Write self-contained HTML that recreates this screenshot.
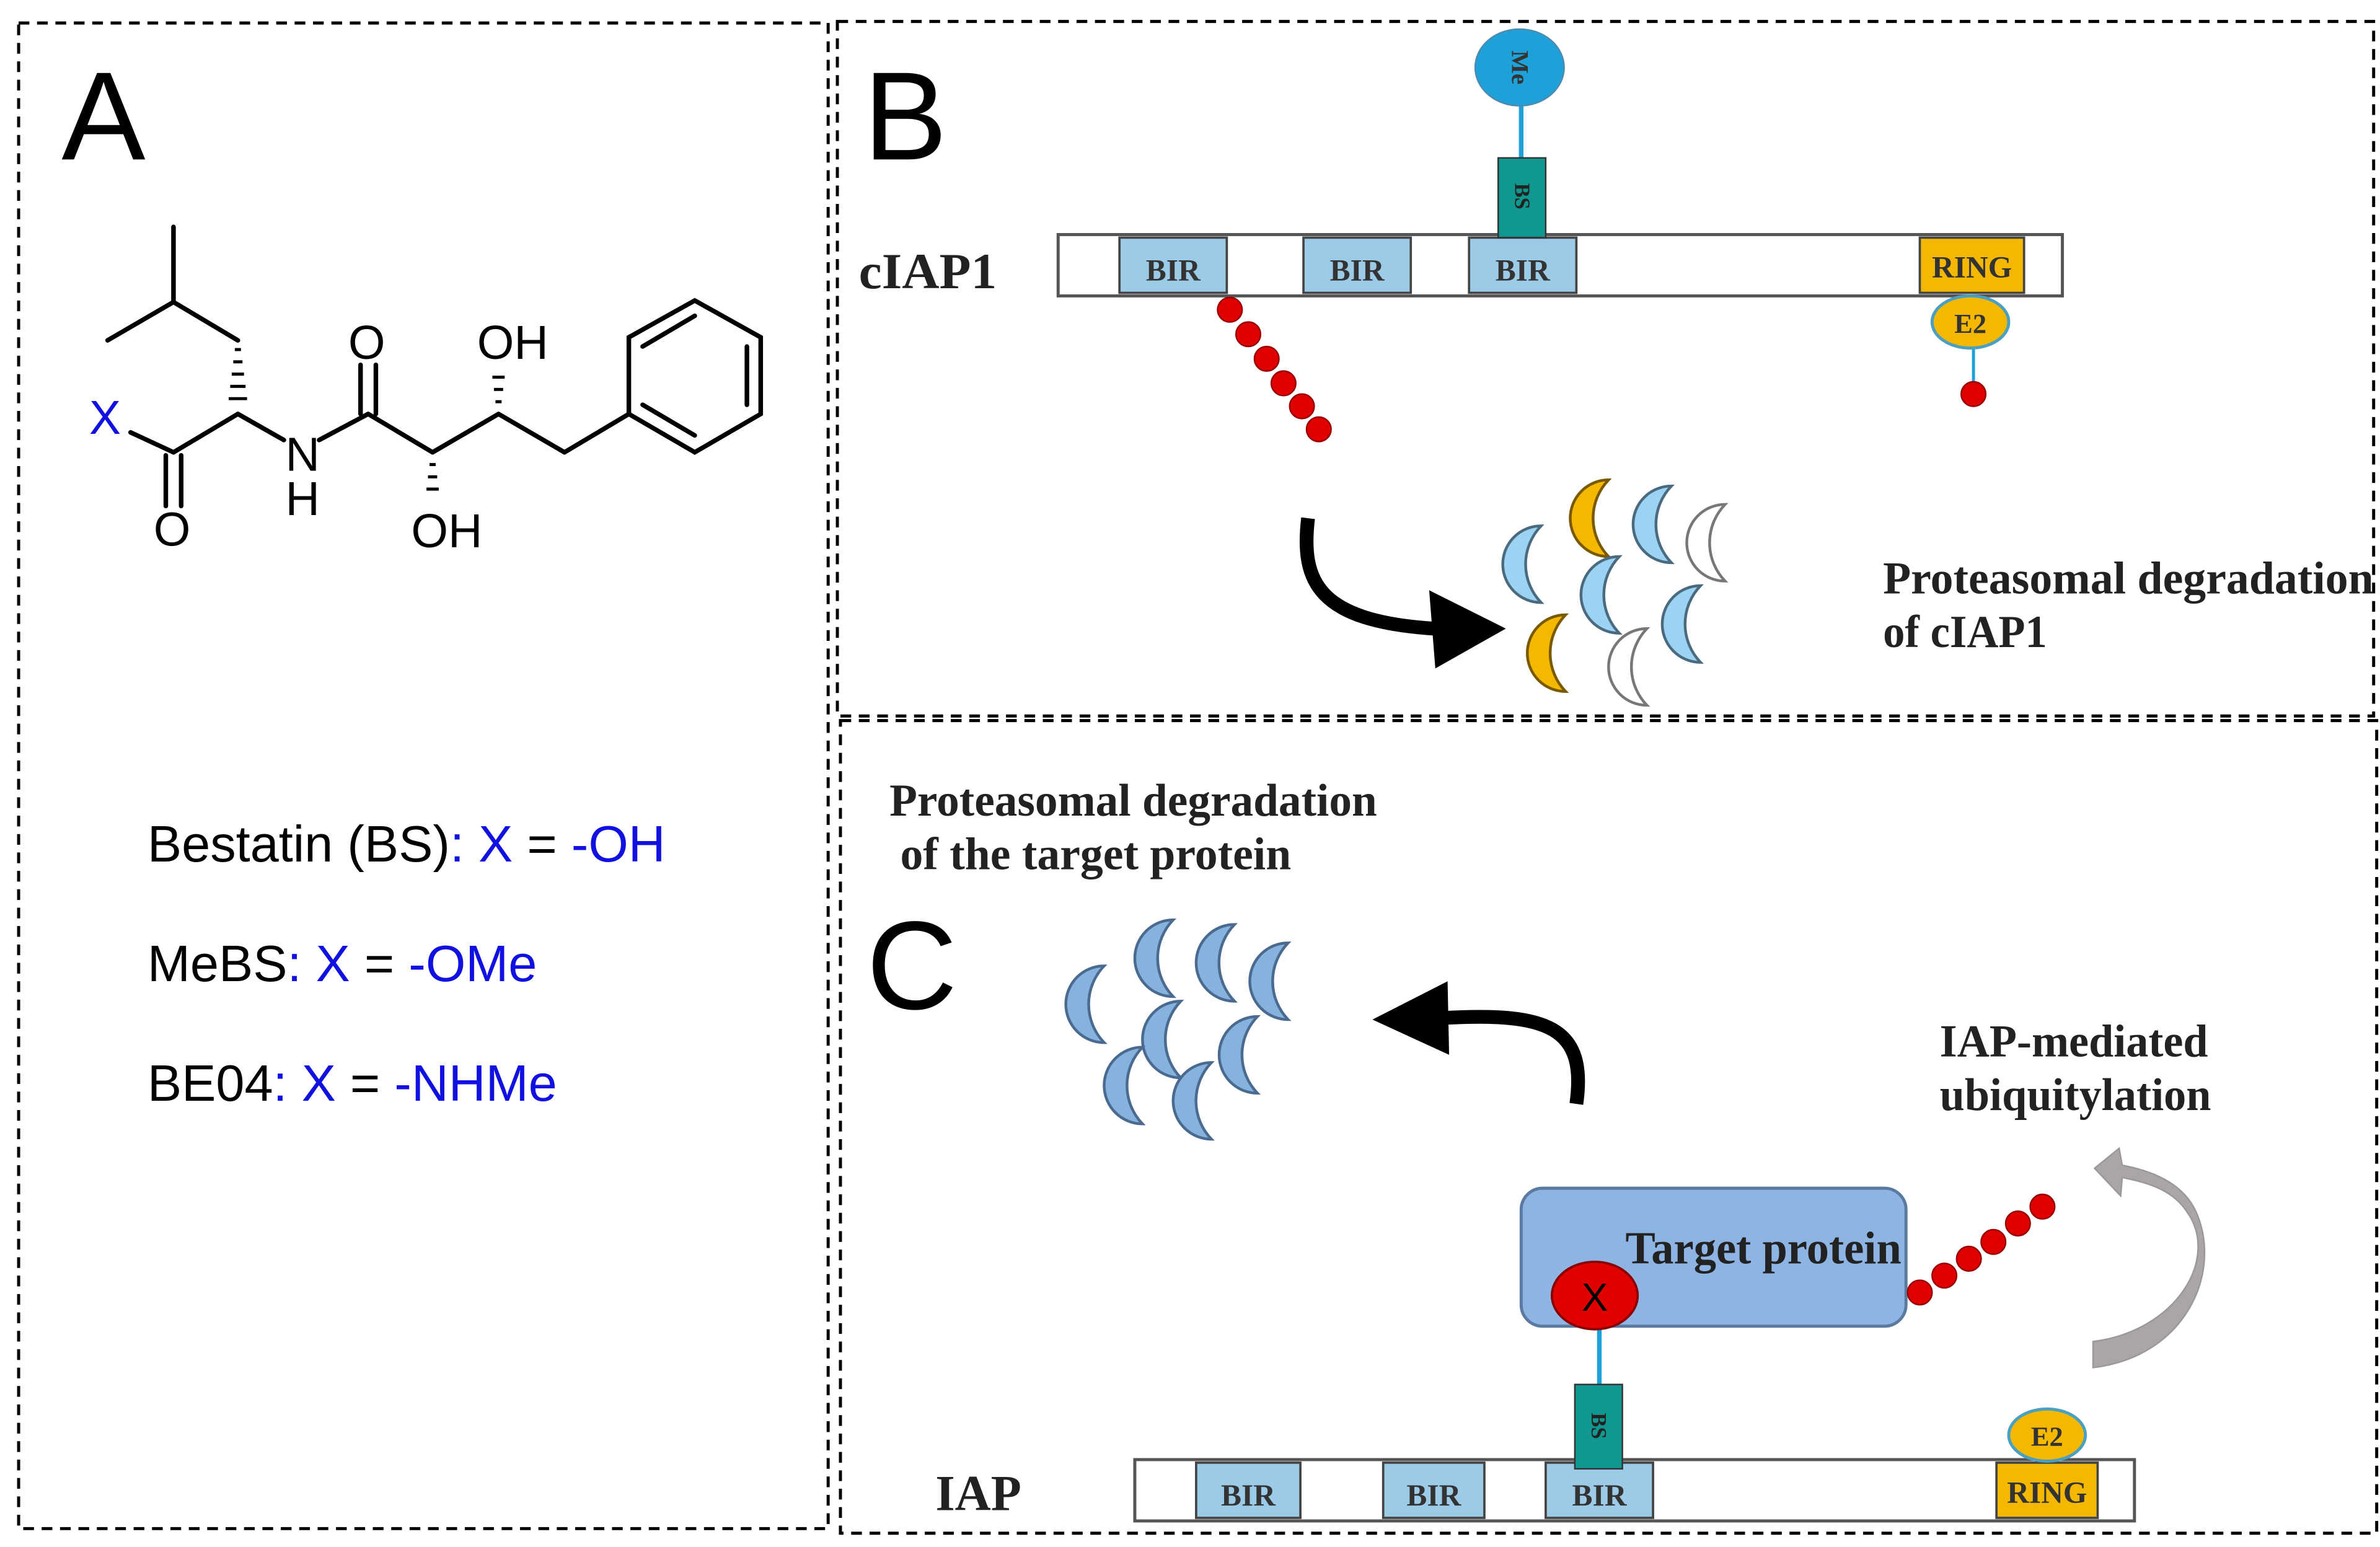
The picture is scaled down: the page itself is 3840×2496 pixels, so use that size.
<!DOCTYPE html>
<html><head><meta charset="utf-8"><style>html,body{margin:0;padding:0;background:#fff}svg{display:block}</style></head>
<body>
<svg width="3840" height="2496" viewBox="0 0 1552 1009" xmlns="http://www.w3.org/2000/svg">
<defs>
<path id="cr" d="M8,-25 A25,25 0 0 0 8,25 A36,36 0 0 1 8,-25Z"/>
</defs>
<g fill="none" stroke="#000" stroke-width="2" stroke-dasharray="7,5">
<rect x="12" y="15" width="528" height="982"/>
<rect x="546" y="14" width="1002" height="453"/>
<rect x="548" y="470" width="1002" height="530"/>
</g>
<g font-family="Liberation Sans, sans-serif" font-size="82" fill="#000">
<text x="40" y="104">A</text><text x="563" y="104">B</text><text x="565" y="658">C</text>
</g>
<!-- molecule -->
<g stroke="#000" stroke-width="3" fill="none" stroke-linecap="round">
<line x1="70" y1="222" x2="113" y2="197"/><line x1="113" y1="197" x2="113" y2="148"/><line x1="113" y1="197" x2="155" y2="222"/>
<line x1="85" y1="282" x2="113" y2="295"/><line x1="113" y1="295" x2="155" y2="270"/>
<line x1="108" y1="297" x2="108" y2="330"/><line x1="118" y1="297" x2="118" y2="330"/>
<line x1="155" y1="270" x2="185" y2="287"/><line x1="208" y1="287" x2="240" y2="270"/>
<line x1="235" y1="270" x2="235" y2="238"/><line x1="245" y1="270" x2="245" y2="238"/>
<line x1="240" y1="270" x2="282" y2="295"/><line x1="282" y1="295" x2="325" y2="270"/>
<line x1="325" y1="270" x2="368" y2="295"/><line x1="368" y1="295" x2="410" y2="270"/>
<polygon points="410,270 410,220 453,196 496,220 496,270 453,295"/>
<line x1="419" y1="226" x2="453" y2="206"/><line x1="487" y1="226" x2="487" y2="264"/><line x1="419" y1="264" x2="453" y2="284"/>
</g>
<g stroke="#000" stroke-width="2">
<line x1="153" y1="228" x2="157" y2="228"/><line x1="152" y1="236" x2="158" y2="236"/><line x1="151" y1="244" x2="159" y2="244"/><line x1="150" y1="252" x2="160" y2="252"/><line x1="149" y1="260" x2="161" y2="260"/>
<line x1="280" y1="303" x2="284" y2="303"/><line x1="279" y1="311" x2="285" y2="311"/><line x1="278" y1="319" x2="286" y2="319"/>
<line x1="323" y1="262" x2="327" y2="262"/><line x1="322" y1="254" x2="328" y2="254"/><line x1="321" y1="246" x2="329" y2="246"/>
</g>
<g font-family="Liberation Sans, sans-serif" font-size="31" fill="#000">
<text x="58" y="283" fill="#1010e0">X</text><text x="100" y="356">O</text><text x="186" y="307">N</text><text x="186" y="336">H</text>
<text x="227" y="234">O</text><text x="268" y="357">OH</text><text x="311" y="234">OH</text>
</g>
<g font-family="Liberation Sans, sans-serif" font-size="33.5">
<text x="96" y="562">Bestatin (BS)<tspan fill="#1010e0">: X</tspan> = <tspan fill="#1010e0">-OH</tspan></text>
<text x="96" y="640">MeBS<tspan fill="#1010e0">: X</tspan> = <tspan fill="#1010e0">-OMe</tspan></text>
<text x="96" y="718">BE04<tspan fill="#1010e0">: X</tspan> = <tspan fill="#1010e0">-NHMe</tspan></text>
</g>
<!-- labels -->
<g font-family="Liberation Serif, serif" font-weight="bold" fill="#222">
<text x="560" y="188" font-size="33" textLength="90" lengthAdjust="spacingAndGlyphs">cIAP1</text>
<text x="1228" y="387" font-size="30" textLength="320" lengthAdjust="spacingAndGlyphs">Proteasomal degradation</text>
<text x="1228" y="422" font-size="30" textLength="107" lengthAdjust="spacingAndGlyphs">of cIAP1</text>
<text x="580" y="532" font-size="30" textLength="318" lengthAdjust="spacingAndGlyphs">Proteasomal degradation</text>
<text x="587" y="567" font-size="30" textLength="255" lengthAdjust="spacingAndGlyphs">of the target protein</text>
<text x="1265" y="689" font-size="30" textLength="175" lengthAdjust="spacingAndGlyphs">IAP-mediated</text>
<text x="1265" y="724" font-size="30" textLength="177" lengthAdjust="spacingAndGlyphs">ubiquitylation</text>
<text x="610" y="985" font-size="33" textLength="56" lengthAdjust="spacingAndGlyphs">IAP</text>
</g>
<line x1="992" y1="65" x2="992" y2="105" stroke="#1ea0d8" stroke-width="3"/>
<ellipse cx="991" cy="44" rx="29" ry="25" fill="#1ea0d8" stroke="#4a8ab0"/>
<text transform="translate(986,44) rotate(90)" font-family="Liberation Serif,serif" font-weight="bold" font-size="16" text-anchor="middle" fill="#333">Me</text>
<rect x="690" y="153" width="655" height="40" fill="#fff" stroke="#555" stroke-width="2"/>
<g fill="#9ccbe8" stroke="#444" stroke-width="1.5">
<rect x="730" y="155" width="70" height="36"/><rect x="850" y="155" width="70" height="36"/><rect x="958" y="155" width="70" height="36"/>
</g>
<rect x="1252" y="155" width="68" height="36" fill="#f5b800" stroke="#444" stroke-width="1.5"/>
<rect x="977" y="103" width="31" height="52" fill="#109890" stroke="#333"/>
<text transform="translate(988,128) rotate(90)" font-family="Liberation Serif,serif" font-weight="bold" font-size="14" text-anchor="middle" fill="#222">BS</text>
<g font-family="Liberation Serif, serif" font-weight="bold" font-size="20" fill="#333" text-anchor="middle">
<text x="765" y="183">BIR</text><text x="885" y="183">BIR</text><text x="993" y="183">BIR</text><text x="1286" y="181">RING</text>
</g>
<line x1="1287" y1="225" x2="1287" y2="255" stroke="#1ea0d8" stroke-width="2"/>
<ellipse cx="1285" cy="210" rx="25" ry="17" fill="#f5b800" stroke="#4aa0c0" stroke-width="2"/>
<text x="1285" y="217" font-family="Liberation Serif,serif" font-weight="bold" font-size="18" text-anchor="middle" fill="#333">E2</text>
<g fill="#e00000" stroke="#900" stroke-width="1">
<circle cx="1287" cy="257" r="8"/>
<circle cx="802" cy="202" r="8"/><circle cx="814" cy="218" r="8"/><circle cx="826" cy="234" r="8"/><circle cx="837" cy="250" r="8"/><circle cx="849" cy="265" r="8"/><circle cx="860" cy="280" r="8"/>
</g>
<path d="M853,338 C848,380 860,405 935,410" stroke="#000" stroke-width="9" fill="none"/>
<polygon points="932,385 982,410 936,436" fill="#000"/>
<g stroke-width="1.8">
<use href="#cr" transform="translate(1041,338)" fill="#f5b800" stroke="#7a5a00"/>
<use href="#cr" transform="translate(1082,342)" fill="#9dd3f2" stroke="#4a6a80"/>
<use href="#cr" transform="translate(1117,354)" fill="#fff" stroke="#777"/>
<use href="#cr" transform="translate(997,368)" fill="#9dd3f2" stroke="#4a6a80"/>
<use href="#cr" transform="translate(1048,388)" fill="#9dd3f2" stroke="#4a6a80"/>
<use href="#cr" transform="translate(1101,407)" fill="#9dd3f2" stroke="#4a6a80"/>
<use href="#cr" transform="translate(1013,426)" fill="#f5b800" stroke="#7a5a00"/>
<use href="#cr" transform="translate(1066,435)" fill="#fff" stroke="#777"/>
</g>
<!-- panel C -->
<g stroke-width="1.8" fill="#86b2de" stroke="#4a6a90">
<use href="#cr" transform="translate(712,655)"/>
<use href="#cr" transform="translate(757,625)"/>
<use href="#cr" transform="translate(797,628)"/>
<use href="#cr" transform="translate(832,640)"/>
<use href="#cr" transform="translate(762,678)"/>
<use href="#cr" transform="translate(812,688)"/>
<use href="#cr" transform="translate(737,708)"/>
<use href="#cr" transform="translate(782,718)"/>
</g>
<path d="M1028,720 C1035,670 1010,660 940,664" stroke="#000" stroke-width="9" fill="none"/>
<polygon points="944,640 895,665 945,688" fill="#000"/>
<path d="M1365,875 C1420,868 1448,820 1426,790 C1418,778 1405,772 1384,768 L1383,780 L1366,762 L1382,749 L1384,760 C1410,765 1425,775 1432,790 C1450,830 1425,885 1365,892 Z" fill="#aba5a7" stroke="#999" stroke-width="1"/>
<rect x="992" y="775" width="251" height="90" rx="14" fill="#8db4e2" stroke="#5a7aa0" stroke-width="2"/>
<text x="1060" y="824" font-family="Liberation Serif,serif" font-weight="bold" font-size="30" fill="#222" textLength="180" lengthAdjust="spacingAndGlyphs">Target protein</text>
<line x1="1043" y1="866" x2="1043" y2="905" stroke="#1ea0d8" stroke-width="3"/>
<ellipse cx="1040" cy="845" rx="28" ry="22" fill="#e00000" stroke="#800" stroke-width="1.5"/>
<text x="1040" y="855" font-family="Liberation Sans,sans-serif" font-size="26" text-anchor="middle" fill="#000">X</text>
<g fill="#e00000" stroke="#900" stroke-width="1">
<circle cx="1252" cy="843" r="8"/><circle cx="1268" cy="832" r="8"/><circle cx="1284" cy="821" r="8"/><circle cx="1300" cy="810" r="8"/><circle cx="1316" cy="798" r="8"/><circle cx="1332" cy="787" r="8"/>
</g>
<rect x="740" y="952" width="652" height="40" fill="#fff" stroke="#555" stroke-width="2"/>
<g fill="#9ccbe8" stroke="#444" stroke-width="1.5">
<rect x="780" y="954" width="68" height="36"/><rect x="902" y="954" width="66" height="36"/><rect x="1008" y="954" width="70" height="36"/>
</g>
<rect x="1302" y="954" width="66" height="36" fill="#f5b800" stroke="#444" stroke-width="1.5"/>
<rect x="1027" y="903" width="31" height="55" fill="#109890" stroke="#333"/>
<text transform="translate(1038,930) rotate(90)" font-family="Liberation Serif,serif" font-weight="bold" font-size="14" text-anchor="middle" fill="#222">BS</text>
<ellipse cx="1335" cy="936" rx="25" ry="17" fill="#f5b800" stroke="#4aa0c0" stroke-width="2"/>
<text x="1335" y="943" font-family="Liberation Serif,serif" font-weight="bold" font-size="18" text-anchor="middle" fill="#333">E2</text>
<g font-family="Liberation Serif, serif" font-weight="bold" font-size="20" fill="#333" text-anchor="middle">
<text x="814" y="982">BIR</text><text x="935" y="982">BIR</text><text x="1043" y="982">BIR</text><text x="1335" y="980">RING</text>
</g>
</svg>
</body></html>
